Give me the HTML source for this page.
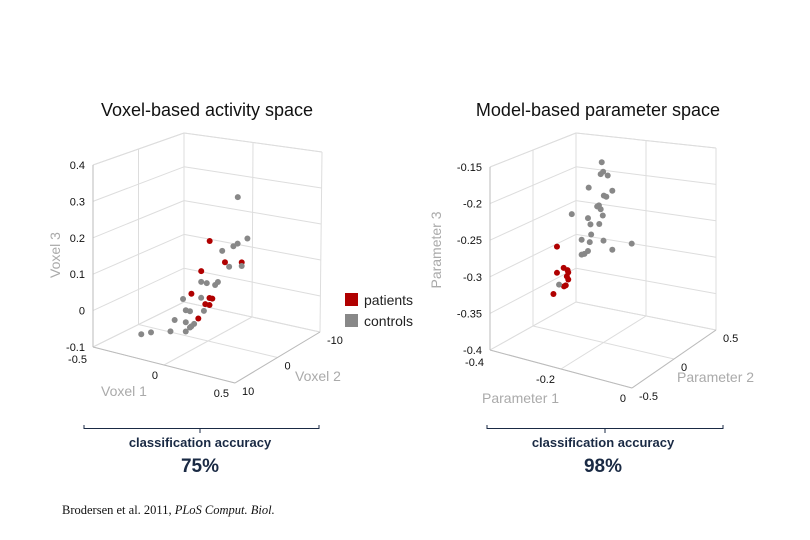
<!DOCTYPE html>
<html><head><meta charset="utf-8"><style>
html,body{margin:0;padding:0;background:#fff;}
svg{display:block;font-family:"Liberation Sans",sans-serif;}
</style></head><body>
<svg id="root" width="810" height="540" viewBox="0 0 810 540">
<g id="left"></g>
<g id="right"></g>
<text x="207" y="116" font-size="18" text-anchor="middle" fill="#111">Voxel-based activity space</text>
<text x="598" y="116" font-size="18" text-anchor="middle" fill="#111">Model-based parameter space</text>
<g>
<rect x="345" y="293" width="13" height="13" fill="#b00000"/>
<text x="364" y="305" font-size="14" fill="#222">patients</text>
<rect x="345" y="314" width="13" height="13" fill="#888"/>
<text x="364" y="326" font-size="14" fill="#222">controls</text>
</g>
<g fill="#1a2a44">
<path d="M84,425 V428.5 H319 V425 M200,428.5 V433" stroke="#1a2a44" stroke-width="1" fill="none"/>
<text x="200" y="447" font-size="13" font-weight="bold" text-anchor="middle">classification accuracy</text>
<text x="200" y="472" font-size="19" font-weight="bold" text-anchor="middle">75%</text>
</g>
<g fill="#1a2a44">
<path d="M487,425 V428.5 H723 V425 M605,428.5 V433" stroke="#1a2a44" stroke-width="1" fill="none"/>
<text x="603" y="447" font-size="13" font-weight="bold" text-anchor="middle">classification accuracy</text>
<text x="603" y="472" font-size="19" font-weight="bold" text-anchor="middle">98%</text>
</g>
<text x="62" y="514" font-size="12.5" font-family="Liberation Serif,serif" fill="#111">Brodersen et al. 2011, <tspan font-style="italic">PLoS Comput. Biol.</tspan></text>
</svg>
<script>
// Left chart data (Voxel 1, Voxel 2, Voxel 3)
const leftGroup=["c","p","c","c","c","c","p","c","p","c","p","c","c","c","c","p","c","c","p","p","p","p","c","c","c","p","c","c","c","c","c","c","c","c","c"];
const leftX=[0.21,0.01,0.10,0.18,0.21,0.28,0.12,0.15,0.24,0.24,-0.05,-0.05,-0.01,0.05,0.07,-0.12,-0.18,-0.05,0.01,0.03,-0.02,0.01,-0.16,-0.13,-0.03,-0.07,-0.24,-0.16,-0.12,-0.10,-0.13,-0.48,-0.41,-0.27,-0.16];
const leftY=[0,0,0,0,0,0,0,0,0,0,0,0,0,0,0,0,0,0,0,0,0,0,0,0,0,0,0,0,0,0,0,0,0,0,0];
const leftZ=[0.322,0.182,0.162,0.182,0.192,0.212,0.132,0.122,0.142,0.132,0.092,0.062,0.062,0.062,0.072,0.022,0.002,0.017,0.022,0.022,0.002,0.002,-0.028,-0.028,-0.018,-0.043,-0.063,-0.062,-0.07,-0.061,-0.074,-0.126,-0.114,-0.098,-0.088];
const leftXTicks=[-0.5,0,0.5];
const leftYTicks=[10,0,-10];
const leftZTicks=[-0.1,0,0.1,0.2,0.3,0.4];
// Right chart data (Parameter 1, Parameter 2, Parameter 3)
const rightGroup=["c","c","c","c","c","c","c","c","c","c","c","c","c","c","c","c","c","c","c","c","c","c","c","c","c","p","p","p","p","p","p","p","p","p","c","p"];
const rightX=[-0.205,-0.208,-0.201,-0.188,-0.242,-0.199,-0.192,-0.175,-0.218,-0.213,-0.208,-0.29,-0.244,-0.202,-0.237,-0.212,-0.235,-0.262,-0.239,-0.2,-0.12,-0.175,-0.244,-0.254,-0.262,-0.332,-0.313,-0.302,-0.3,-0.332,-0.304,-0.3,-0.307,-0.312,-0.326,-0.342];
const rightY=[0,0,0,0,0,0,0,0,0,0,0,0,0,0,0,0,0,0,0,0,0,0,0,0,0,0,0,0,0,0,0,0,0,0,0,0];
const rightZ=[-0.149,-0.166,-0.162,-0.166,-0.188,-0.195,-0.196,-0.186,-0.212,-0.21,-0.215,-0.23,-0.231,-0.223,-0.239,-0.236,-0.253,-0.263,-0.264,-0.258,-0.254,-0.268,-0.277,-0.282,-0.284,-0.28,-0.308,-0.31,-0.313,-0.317,-0.319,-0.323,-0.332,-0.334,-0.333,-0.348];
const rightXTicks=[-0.4,-0.2,0];
const rightYTicks=[-0.5,0,0.5];
const rightZTicks=[-0.4,-0.35,-0.3,-0.25,-0.2,-0.15];

const NS="http://www.w3.org/2000/svg";
function mk(tag,attrs,parent){const e=document.createElementNS(NS,tag);for(const k in attrs)e.setAttribute(k,attrs[k]);parent.appendChild(e);return e;}
function lerp(a,b,t){return [a[0]+(b[0]-a[0])*t,a[1]+(b[1]-a[1])*t];}

function draw(cfg){
  const g=document.getElementById(cfg.id);
  const [x0,x1]=cfg.xr,[y0,y1]=cfg.yr,[z0,z1]=cfg.zr;
  const F=cfg.floor, T=cfg.top;
  function P(x,y,z){
    const u=(x-x0)/(x1-x0), v=(y-y0)/(y1-y0), w=(z-z0)/(z1-z0);
    const f=lerp(lerp(F[0],F[1],u),lerp(F[3],F[2],u),v);
    const t=lerp(lerp(T[0],T[1],u),lerp(T[3],T[2],u),v);
    return lerp(f,t,w);
  }
  function line(a,b,name,col){
    const l=mk('line',{x1:a[0],y1:a[1],x2:b[0],y2:b[1],stroke:col,'stroke-width':1},g);
    
    
  }
  const gc='#dddddd';
  cfg.zt.forEach(z=>{
    line(P(x0,y0,z),P(x0,y1,z),'grid-line',gc);
    line(P(x0,y1,z),P(x1,y1,z),'grid-line',gc);
  });
  line(P(x0,y0,z1),P(x0,y1,z1),'grid-line',gc);
  line(P(x0,y1,z1),P(x1,y1,z1),'grid-line',gc);
  cfg.yt.forEach(y=>{
    line(P(x0,y,z0),P(x0,y,z1),'grid-line',gc);
    line(P(x0,y,z0),P(x1,y,z0),'grid-line',gc);
  });
  cfg.xt.forEach(x=>{
    line(P(x,y1,z0),P(x,y1,z1),'grid-line',gc);
    line(P(x,y0,z0),P(x,y1,z0),'grid-line',gc);
  });
  line(P(x0,y0,z0),P(x0,y0,z1),'z-axis-line','#bbbbbb');
  line(P(x0,y0,z0),P(x1,y0,z0),'x-axis-line','#bbbbbb');
  line(P(x1,y0,z0),P(x1,y1,z0),'y-axis-line','#bbbbbb');
  cfg.zt.forEach(z=>{
    const p=P(x0,y0,z);
    const t=mk('text',{x:p[0]-8,y:p[1]+4,'font-size':11,'text-anchor':'end',fill:'#111'},g);
    t.textContent=cfg.fmt(z);
    
    
  });
  cfg.xt.forEach((x,i)=>{
    const p=P(x,y0,z0);
    const t=mk('text',{x:p[0]-6,y:p[1]+(i===0?16:14),'font-size':11,'text-anchor':'end',fill:'#111'},g);
    t.textContent=cfg.fmt(x);
    
    
  });
  cfg.yt.forEach(y=>{
    const p=P(x1,y,z0);
    const t=mk('text',{x:p[0]+7,y:p[1]+12,'font-size':11,'text-anchor':'start',fill:'#111'},g);
    t.textContent=cfg.fmt(y);
    
    
  });
  const tz=mk('text',{x:0,y:0,'font-size':14,fill:'#aaaaaa','text-anchor':'middle',transform:`translate(${cfg.zt_pos[0]},${cfg.zt_pos[1]}) rotate(-90)`},g);
  tz.textContent=cfg.zl;
  
  
  const tx=mk('text',{x:cfg.xt_pos[0],y:cfg.xt_pos[1],'font-size':14,fill:'#aaaaaa'},g);
  tx.textContent=cfg.xl;
  
  
  const ty=mk('text',{x:cfg.yt_pos[0],y:cfg.yt_pos[1],'font-size':14,fill:'#aaaaaa'},g);
  ty.textContent=cfg.yl;
  
  
  cfg.X.forEach((x,i)=>{
    const p=P(x,cfg.Y[i],cfg.Z[i]);
    const c=mk('circle',{cx:p[0],cy:p[1],r:3,fill:cfg.G[i]==='p'?'#b00000':'#888888'},g);
    
    
  });
}
const fmt=v=>String(Math.round(v*1000)/1000);
draw({id:'left',xr:[-0.5,0.5],yr:[10,-10],zr:[-0.1,0.4],
  floor:[[93,347],[235,383],[320,332],[184,302]],
  top:[[93,165],[235,203],[322,152],[184,133]],
  X:leftX,Y:leftY,Z:leftZ,G:leftGroup,xt:leftXTicks,yt:leftYTicks,zt:leftZTicks,fmt:fmt,
  zl:'Voxel 3',xl:'Voxel 1',yl:'Voxel 2',zt_pos:[60,255],xt_pos:[101,396],yt_pos:[295,381]});
draw({id:'right',xr:[-0.4,0],yr:[-0.5,0.5],zr:[-0.4,-0.15],
  floor:[[490,350],[632,388],[716,330],[576,302]],
  top:[[490,167],[632,205],[716,148],[576,133]],
  X:rightX,Y:rightY,Z:rightZ,G:rightGroup,xt:rightXTicks,yt:rightYTicks,zt:rightZTicks,fmt:fmt,
  zl:'Parameter 3',xl:'Parameter 1',yl:'Parameter 2',zt_pos:[441,250],xt_pos:[482,403],yt_pos:[677,382]});
</script>
</body></html>
